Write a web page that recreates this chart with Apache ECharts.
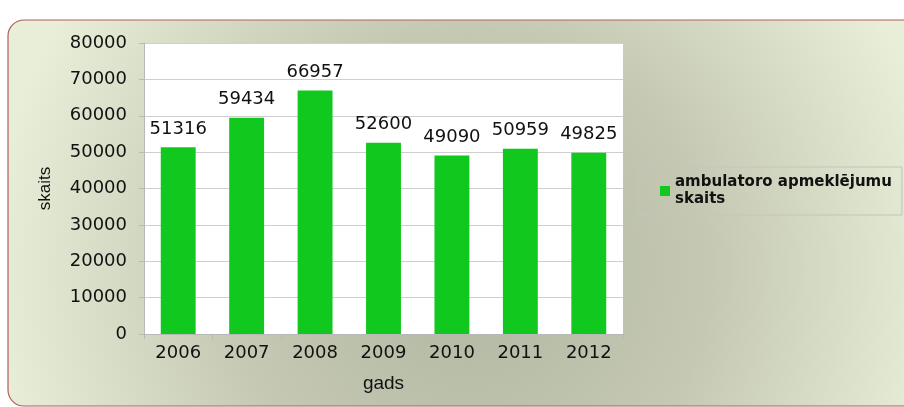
<!DOCTYPE html>
<html><head><meta charset="utf-8">
<script src="https://cdn.jsdelivr.net/npm/echarts@6/dist/echarts.min.js"></script>
<style>html,body{margin:0;padding:0;background:#fff}#c{width:904px;height:407px}</style>
</head><body><div id="c"></div>
<script>
const categories = ['2006','2007','2008','2009','2010','2011','2012'];
const values = [51316, 59434, 66957, 52600, 49090, 50959, 49825];
const seriesName = 'ambulatoro apmeklējumu\nskaits';
const yAxisName = 'skaits';
const xAxisName = 'gads';

const chart = echarts.init(document.getElementById('c'));
const font = 'DejaVu Sans, Verdana, sans-serif';
chart.setOption({
  animation: false,
  backgroundColor: '#ffffff',
  graphic: [{
    type: 'rect', z: -10, silent: true,
    shape: { x: 8, y: 20, width: 930, height: 386, r: 16 },
    style: {
      fill: { type: 'radial', x: 470, y: 270, r: 480, global: true,
        colorStops: [{offset: 0, color: '#b0b6a1'}, {offset: 0.5, color: '#c5c9b4'}, {offset: 1, color: '#e8eed8'}] },
      stroke: '#b0605a', lineWidth: 1.2
    }
  }],
  grid: { left: 144, right: 281, top: 43, bottom: 73, show: true, backgroundColor: '#ffffff', borderWidth: 0 },
  legend: {
    orient: 'vertical', left: 640, top: 167,
    padding: [7, 10, 7, 20],
    borderColor: '#c4c4bc', borderWidth: 1,
    itemWidth: 10, itemHeight: 10, itemGap: 4,
    icon: 'rect',
    textStyle: { fontFamily: font, fontSize: 15, color: '#111', fontWeight: 'bold', lineHeight: 17 },
    data: [seriesName]
  },
  xAxis: {
    type: 'category', data: categories,
    name: xAxisName, nameLocation: 'middle', nameGap: 40,
    nameTextStyle: { fontFamily: 'Liberation Sans, Arial, sans-serif', fontSize: 19, color: '#111' },
    axisLine: { show: true, lineStyle: { color: '#b8b8b8' } },
    axisTick: { show: true, alignWithLabel: false, length: 5, lineStyle: { color: '#b8b8b8' } },
    axisLabel: { fontFamily: font, fontSize: 18, color: '#111', margin: 10 }
  },
  yAxis: {
    type: 'value', min: 0, max: 80000, interval: 10000,
    name: yAxisName, nameLocation: 'middle', nameGap: 90, nameRotate: 90,
    nameTextStyle: { fontFamily: 'Liberation Sans Narrow, Arial Narrow, Liberation Sans, sans-serif', fontSize: 17, color: '#111' },
    axisLine: { show: true, lineStyle: { color: '#b8b8b8' } },
    axisTick: { show: true, length: 5, lineStyle: { color: '#b8b8b8' } },
    axisLabel: { fontFamily: font, fontSize: 18, color: '#111', margin: 17, formatter: v => String(v) },
    splitLine: { show: true, lineStyle: { color: '#cfcfcf' } }
  },
  series: [{
    name: seriesName, type: 'bar', data: values,
    barWidth: '51%',
    itemStyle: { color: '#11c91e' },
    label: { show: true, position: 'top', distance: 9, fontFamily: font, fontSize: 18, color: '#111' }
  }]
});
</script></body></html>
